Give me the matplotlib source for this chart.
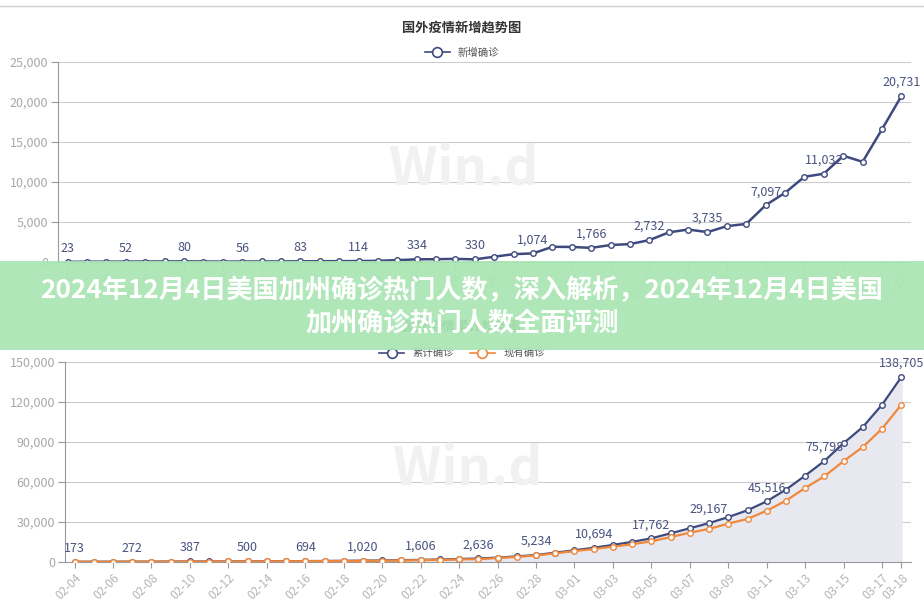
import matplotlib
matplotlib.use('Agg')
import matplotlib.pyplot as plt
from matplotlib.lines import Line2D
from matplotlib.patches import Rectangle

plt.rcParams['font.family'] = ['Noto Sans CJK SC', 'DejaVu Sans']

dates = ['02-04', '02-05', '02-06', '02-07', '02-08', '02-09', '02-10', '02-11',
         '02-12', '02-13', '02-14', '02-15', '02-16', '02-17', '02-18', '02-19',
         '02-20', '02-21', '02-22', '02-23', '02-24', '02-25', '02-26', '02-27',
         '02-28', '02-29', '03-01', '03-02', '03-03', '03-04', '03-05', '03-06',
         '03-07', '03-08', '03-09', '03-10', '03-11', '03-12', '03-13', '03-14',
         '03-15', '03-16', '03-17', '03-18']

# 新增确诊
new_cases = [23, 35, 41, 52, 60, 68, 80, 62, 50, 56, 64, 72, 83, 95, 104, 114,
             150, 230, 334, 350, 390, 330, 660, 980, 1074, 1900, 1880, 1766,
             2120, 2240, 2732, 3700, 4060, 3735, 4480, 4760, 7097, 8650, 10650,
             11032, 13280, 12520, 16580, 20731]

# 累计确诊
total_cases = [173, 200, 236, 272, 300, 340, 387, 420, 460, 500, 560, 620, 694,
               790, 900, 1020, 1180, 1380, 1606, 1900, 2250, 2636, 3300, 4200,
               5234, 7000, 8800, 10694, 12800, 15100, 17762, 21500, 25300, 29167,
               33700, 38800, 45516, 54300, 64800, 75798, 89200, 101300, 118000,
               138705]

# 现有确诊
active_cases = [150, 175, 205, 235, 260, 295, 335, 360, 395, 430, 480, 530, 590,
                670, 760, 860, 990, 1160, 1350, 1600, 1900, 2100, 3000, 3800,
                4900, 6500, 8200, 9700, 11500, 13300, 15500, 18700, 22000, 24800,
                28800, 32300, 38500, 46000, 55500, 64300, 75700, 86300, 100000,
                118000]

label_idx = [0, 3, 6, 9, 12, 15, 18, 21, 24, 27, 30, 33, 36, 39, 43]
tick_idx = list(range(0, 44, 2)) + [43]

navy = '#3e4a7e'
orange = '#f0883c'
label_col = '#4a5280'
tick_col = '#a8a8a8'

fig = plt.figure(figsize=(9.24, 6.13), dpi=100)
ax1 = fig.add_axes([0.0628, 0.5726, 0.9232, 0.3263])
ax2 = fig.add_axes([0.0703, 0.0832, 0.9156, 0.3263])

x = list(range(len(dates)))


def style(ax, ymax, step):
    ax.set_xlim(-0.5, len(dates) - 0.5)
    ax.set_ylim(0, ymax)
    ax.set_yticks(range(0, ymax + 1, step))
    ax.set_yticklabels([f'{v:,}' for v in range(0, ymax + 1, step)])
    ax.set_xticks(tick_idx)
    ax.set_xticklabels([dates[i] for i in tick_idx], rotation=45, ha='right',
                       rotation_mode='anchor')
    ax.tick_params(axis='y', length=5, color='#999999', labelcolor=tick_col,
                   labelsize=9, pad=2)
    ax.tick_params(axis='x', length=4, color='#999999', labelcolor='#b5b5b5',
                   labelsize=8.5, pad=3)
    for s in ['top', 'right']:
        ax.spines[s].set_visible(False)
    ax.spines['left'].set_color('#999999')
    ax.spines['bottom'].set_color('#999999')
    ax.grid(axis='y', color='#cccccc', linewidth=0.8)
    ax.set_axisbelow(True)
    # watermark
    ax.text(0.476, 0.46, 'Win.d', transform=ax.transAxes, fontsize=38,
            fontweight='bold', color='#f1f1f1', ha='center', va='center',
            zorder=0.6)


style(ax1, 25000, 5000)
style(ax2, 150000, 30000)

mk = dict(marker='o', markersize=4, markerfacecolor='white', markeredgewidth=1)

ax1.plot(x, new_cases, color=navy, linewidth=1.8, markeredgecolor=navy, zorder=3, **mk)
for i in label_idx:
    ax1.annotate(f'{new_cases[i]:,}', (i, new_cases[i]), xytext=(0, 7),
                 textcoords='offset pixels', ha='center', va='bottom',
                 color=label_col, fontsize=9)

ax2.fill_between(x, total_cases, color='#e8e9f0', zorder=1)
ax2.plot(x, total_cases, color=navy, linewidth=1.6, markeredgecolor=navy, zorder=3, **mk)
ax2.plot(x, active_cases, color=orange, linewidth=1.6, markeredgecolor=orange, zorder=4, **mk)
for i in label_idx:
    ax2.annotate(f'{total_cases[i]:,}', (i, total_cases[i]), xytext=(0, 7),
                 textcoords='offset pixels', ha='center', va='bottom',
                 color=label_col, fontsize=9)

# titles and legends
fig.text(0.5, 0.9543, '国外疫情新增趋势图', ha='center', va='center',
         fontsize=9.5, fontweight='bold', color='#333333')
# second title sits under the banner, as in the reference
fig.text(0.5, 1 - 327 / 613, '国外疫情累计趋势图', ha='center', va='center',
         fontsize=9.5, fontweight='bold', color='#333333')

h1 = [Line2D([], [], color=navy, linewidth=1.2, marker='o', markersize=7,
             markerfacecolor='white', markeredgecolor=navy, markeredgewidth=1.2)]
fig.legend(h1, ['新增确诊'], loc='center', bbox_to_anchor=(0.5, 1 - 53 / 613),
           frameon=False, fontsize=7.5, handlelength=2.4, labelcolor='#555555')
h2 = [Line2D([], [], color=navy, linewidth=1.2, marker='o', markersize=7,
             markerfacecolor='white', markeredgecolor=navy, markeredgewidth=1.2),
      Line2D([], [], color=orange, linewidth=1.2, marker='o', markersize=7,
             markerfacecolor='white', markeredgecolor=orange, markeredgewidth=1.2)]
fig.legend(h2, ['累计确诊', '现有确诊'], loc='center', ncol=2,
           bbox_to_anchor=(0.5, 1 - 353 / 613), frameon=False, fontsize=7.5,
           handlelength=2.4, columnspacing=1.5, labelcolor='#555555')

# top separator line
fig.add_artist(Line2D([0, 1], [1 - 6 / 613, 1 - 6 / 613], color='#d0d0d0',
                      linewidth=1, transform=fig.transFigure))

# green banner with headline
fig.add_artist(Rectangle((0, 1 - 350 / 613), 1, 89 / 613, transform=fig.transFigure,
                         facecolor='#aae6b4', edgecolor='none', alpha=0.93, zorder=10))
fig.text(0.5, 1 - 291 / 613, '2024年12月4日美国加州确诊热门人数，深入解析，2024年12月4日美国',
         ha='center', va='center', fontsize=18.8, fontweight='bold', color='white', zorder=11)
fig.text(0.5, 1 - 324 / 613, '加州确诊热门人数全面评测',
         ha='center', va='center', fontsize=18.8, fontweight='bold', color='white', zorder=11)

fig.savefig('out.png', dpi=100)
